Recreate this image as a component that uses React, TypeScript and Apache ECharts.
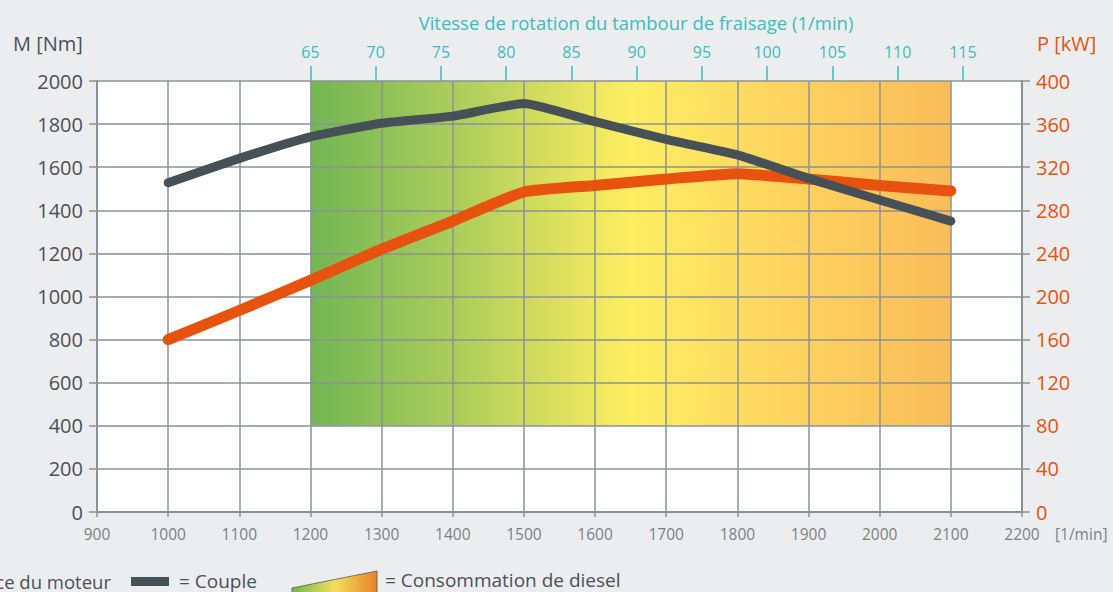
import React, { useEffect, useRef } from "react";
import * as echarts from "echarts";

const rpm = [1000, 1100, 1200, 1300, 1400, 1500, 1600, 1700, 1800, 1900, 2000, 2100];
const torque = [1528, 1641, 1741, 1804, 1837, 1896, 1811, 1729, 1657, 1548, 1448, 1350];
const power = [160, 187, 215, 244, 270, 297, 303, 309, 314, 309, 303, 298];
const zoneRpm = [1200, 2100];
const zoneTorque = [400, 2000];
const drumTicks = [65, 70, 75, 80, 85, 90, 95, 100, 105, 110, 115];
const drumRange = [48.64, 119.53];

const GRID = "#8b9297";
const TEAL = "#3dbcbc";
const ORANGE = "#e8520f";
const DARK = "#465157";
const TEXT = "#4a5257";
const FONT = "'Open Sans', 'Noto Sans', sans-serif";
const plain = (v: number) => String(v);

export default function App() {
  const ref = useRef<HTMLDivElement>(null);
  useEffect(() => {
    const chart = echarts.init(ref.current!, null, { renderer: "svg" });
    const zoneGrad = new echarts.graphic.LinearGradient(0, 0, 1, 0, [
      { offset: 0, color: "#72b653" },
      { offset: 0.25, color: "#b3cf5c" },
      { offset: 0.5, color: "#fdee62" },
      { offset: 0.75, color: "#fed35f" },
      { offset: 1, color: "#f9bd5a" },
    ]);
    const legendGrad = new echarts.graphic.LinearGradient(0, 0, 1, 0, [
      { offset: 0, color: "#72b653" },
      { offset: 0.5, color: "#f0e05c" },
      { offset: 1, color: "#e8822a" },
    ]);
    chart.setOption({
      animation: false,
      backgroundColor: "#ecedef",
      textStyle: { fontFamily: FONT },
      grid: {
        left: 97,
        top: 81,
        width: 925,
        height: 431,
        show: true,
        backgroundColor: "#ffffff",
        borderWidth: 0,
        z: 0,
      },
      xAxis: [
        {
          type: "value",
          min: 900,
          max: 2200,
          interval: 100,
          position: "bottom",
          z: 2,
          axisLine: { show: true, onZero: false, lineStyle: { color: GRID, width: 2 } },
          axisTick: { show: true, length: 5, lineStyle: { color: GRID, width: 1.5 } },
          splitLine: { show: true, lineStyle: { color: GRID, width: 1.5 } },
          axisLabel: { color: "#7a8287", fontSize: 15.5, margin: 14, fontFamily: FONT, formatter: plain },
        },
        {
          type: "value",
          min: drumRange[0],
          max: drumRange[1],
          position: "top",
          z: 2,
          axisLine: { show: false, onZero: false },
          axisTick: {
            show: true,
            length: 15,
            customValues: drumTicks,
            lineStyle: { color: TEAL, width: 1.5 },
          },
          splitLine: { show: false },
          axisLabel: {
            color: TEAL,
            fontSize: 16,
            margin: 21,
            customValues: drumTicks,
            fontFamily: FONT,
            formatter: plain,
          },
        },
      ],
      yAxis: [
        {
          type: "value",
          min: 0,
          max: 2000,
          interval: 200,
          position: "left",
          z: 2,
          axisLine: { show: true, onZero: false, lineStyle: { color: GRID, width: 2 } },
          axisTick: { show: true, length: 8, lineStyle: { color: GRID, width: 1.5 } },
          splitLine: { show: true, lineStyle: { color: GRID, width: 1.5 } },
          axisLabel: { color: TEXT, fontSize: 20, margin: 14, fontFamily: FONT, formatter: plain },
        },
        {
          type: "value",
          min: 0,
          max: 400,
          interval: 40,
          position: "right",
          z: 2,
          axisLine: { show: true, onZero: false, lineStyle: { color: GRID, width: 2 } },
          axisTick: { show: true, length: 8, lineStyle: { color: GRID, width: 1.5 } },
          splitLine: { show: false },
          axisLabel: { color: ORANGE, fontSize: 20, margin: 14, fontFamily: FONT, formatter: plain },
        },
      ],
      series: [
        {
          type: "line",
          name: "zone",
          z: 1,
          xAxisIndex: 0,
          yAxisIndex: 0,
          data: [],
          silent: true,
          markArea: {
            silent: true,
            itemStyle: { color: zoneGrad },
            data: [[{ coord: [zoneRpm[0], zoneTorque[1]] }, { coord: [zoneRpm[1], zoneTorque[0]] }]],
          },
        },
        {
          type: "line",
          name: "Puissance du moteur",
          z: 3,
          xAxisIndex: 0,
          yAxisIndex: 1,
          data: rpm.map((r, i) => [r, power[i]]),
          showSymbol: false,
          smooth: 0.15,
          lineStyle: { color: ORANGE, width: 11, cap: "round", join: "round" },
        },
        {
          type: "line",
          name: "Couple",
          z: 4,
          xAxisIndex: 0,
          yAxisIndex: 0,
          data: rpm.map((r, i) => [r, torque[i]]),
          showSymbol: false,
          smooth: 0.15,
          lineStyle: { color: DARK, width: 9, cap: "round", join: "round" },
        },
      ],
      graphic: [
        {
          type: "text",
          x: 636,
          y: 22,
          style: {
            text: "Vitesse de rotation du tambour de fraisage (1/min)",
            fill: TEAL,
            font: `18.5px ${FONT}`,
            align: "center",
            verticalAlign: "middle",
          },
        },
        {
          type: "text",
          left: 13,
          top: 33,
          style: { text: "M [Nm]", fill: TEXT, font: `20px ${FONT}` },
        },
        {
          type: "text",
          left: 1037,
          top: 33,
          style: { text: "P [kW]", fill: ORANGE, font: `20px ${FONT}` },
        },
        {
          type: "text",
          left: 1055,
          top: 526,
          style: { text: "[1/min]", fill: "#7a8287", font: `15.5px ${FONT}` },
        },
        {
          type: "rect",
          shape: { x: -70, y: 577, width: 38, height: 9 },
          style: { fill: ORANGE },
        },
        {
          type: "text",
          x: 111,
          y: 581,
          style: {
            text: "= Puissance du moteur",
            fill: TEXT,
            font: `18.5px ${FONT}`,
            align: "right",
            verticalAlign: "middle",
          },
        },
        {
          type: "rect",
          shape: { x: 131, y: 577, width: 38, height: 9 },
          style: { fill: DARK },
        },
        {
          type: "text",
          x: 179,
          y: 581,
          style: { text: "= Couple", fill: TEXT, font: `19px ${FONT}`, verticalAlign: "middle" },
        },
        {
          type: "polygon",
          shape: { points: [[292, 588], [377, 571], [377, 600], [292, 600]] },
          style: { fill: legendGrad, stroke: "#555c5f", lineWidth: 0.8 },
        },
        {
          type: "text",
          x: 385,
          y: 580,
          style: {
            text: "= Consommation de diesel",
            fill: TEXT,
            font: `19px ${FONT}`,
            verticalAlign: "middle",
          },
        },
      ],
    });
    return () => chart.dispose();
  }, []);
  return (
    <div
      ref={ref}
      style={{ position: "fixed", left: 0, top: 0, width: 1113, height: 592, background: "#ecedef" }}
    />
  );
}
